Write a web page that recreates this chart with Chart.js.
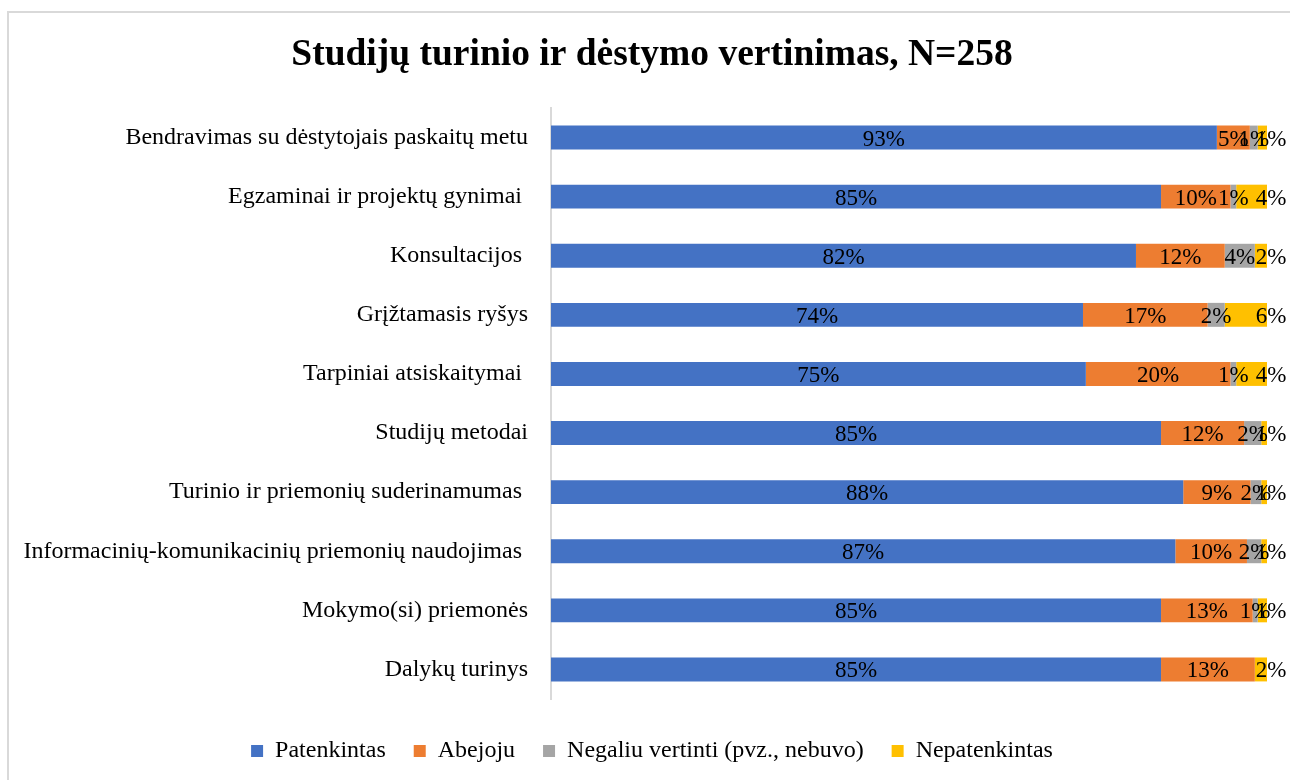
<!DOCTYPE html>
<html>
<head>
<meta charset="utf-8">
<script src="https://cdn.jsdelivr.net/npm/chart.js@4"></script>
<style>
    body { margin: 0; background: #fff; overflow: hidden; }
    #frame { position: absolute; left: 7px; top: 11px; width: 1400px; height: 900px; border: 2px solid #d9d9d9; }
    #chart { position: absolute; left: 0; top: 0; }
</style>
</head>
<body>
<div id="frame"></div>
<canvas id="chart" width="1290" height="780"></canvas>
<script>
var categories = [
    'Bendravimas su dėstytojais paskaitų metu',
    'Egzaminai ir projektų gynimai ',
    'Konsultacijos ',
    'Grįžtamasis ryšys',
    'Tarpiniai atsiskaitymai ',
    'Studijų metodai',
    'Turinio ir priemonių suderinamumas ',
    'Informacinių-komunikacinių priemonių naudojimas ',
    'Mokymo(si) priemonės',
    'Dalykų turinys'
];
var seriesNames = ['Patenkintas', 'Abejoju', 'Negaliu vertinti (pvz., nebuvo)', 'Nepatenkintas'];

// percent values
var patenkintas = [93.0, 85.2, 81.7, 74.3, 74.7, 85.2, 88.3, 87.2, 85.2, 85.2];
var abejoju = [4.6, 9.7, 12.4, 17.4, 20.2, 11.6, 9.4, 10.0, 12.8, 13.1];
var negaliu = [1.1, 0.8, 4.2, 2.4, 0.8, 2.4, 1.5, 2.0, 0.7, 0.0];
var nepatenkintas = [1.3, 4.3, 1.7, 5.9, 4.3, 0.8, 0.8, 0.8, 1.3, 1.7];

var colors = ['#4472c4', '#ed7d31', '#a5a5a5', '#ffc000'];
var serif = "'Liberation Serif', 'Times New Roman', serif";

// draws the percent labels on the bar segments
var barLabels = {
    id: 'barLabels',
    afterDatasetsDraw: function(chart) {
        var ctx = chart.ctx;
        ctx.save();
        ctx.font = '23px ' + serif;
        ctx.fillStyle = '#000';
        ctx.textBaseline = 'middle';
        ctx.textAlign = 'center';
        var last = chart.data.datasets.length - 1;
        chart.data.datasets.forEach(function(ds, i) {
            var meta = chart.getDatasetMeta(i);
            meta.data.forEach(function(bar, j) {
                var v = ds.data[j];
                if (!v) return;
                var x = (bar.base + bar.x) / 2;
                if (i === last) x = Math.max(x, bar.x + 4);
                ctx.fillText(Math.round(v) + '%', x, bar.y + 2);
            });
        });
        ctx.restore();
    }
};

var ctx = document.getElementById('chart').getContext('2d');
var valueSets = [patenkintas, abejoju, negaliu, nepatenkintas];

var chart = new Chart(ctx, {
    type: 'bar',
    data: {
        labels: categories,
        datasets: valueSets.map(function(vals, i) {
            return {
                label: seriesNames[i],
                data: vals,
                backgroundColor: colors[i],
                borderWidth: 0,
                categoryPercentage: 1,
                barPercentage: 0.405
            };
        })
    },
    options: {
        indexAxis: 'y',
        responsive: false,
        animation: false,
        layout: { padding: { left: 14, right: 0, top: 0, bottom: 7 } },
        plugins: {
            title: {
                display: true,
                text: 'Studijų turinio ir dėstymo vertinimas, N=258',
                color: '#000',
                font: { family: serif, size: 37.5, weight: 'bold' },
                padding: { top: 33, bottom: 30 }
            },
            legend: {
                position: 'bottom',
                labels: {
                    color: '#000',
                    font: { family: serif, size: 24 },
                    boxWidth: 12,
                    boxHeight: 12,
                    padding: 28
                }
            },
            tooltip: { enabled: false }
        },
        scales: {
            x: {
                stacked: true,
                min: 0,
                max: 100,
                // kept only as empty space above the legend
                grid: { display: false, drawTicks: false },
                border: { display: false },
                ticks: { display: false },
                afterFit: function(scale) { scale.height = 12; }
            },
            y: {
                stacked: true,
                afterFit: function(scale) { scale.width = 537; },
                grid: { display: false, drawTicks: false },
                border: { display: true, color: '#d9d9d9', width: 2 },
                ticks: {
                    color: '#000',
                    font: { family: serif, size: 24 },
                    padding: 23,
                    autoSkip: false
                }
            },
            // empty right margin for the labels past the bar ends
            yRight: {
                type: 'category',
                position: 'right',
                grid: { display: false, drawTicks: false },
                border: { display: false },
                ticks: { display: false },
                afterFit: function(scale) { scale.width = 23; }
            }
        }
    },
    plugins: [barLabels]
});
</script>
</body>
</html>
